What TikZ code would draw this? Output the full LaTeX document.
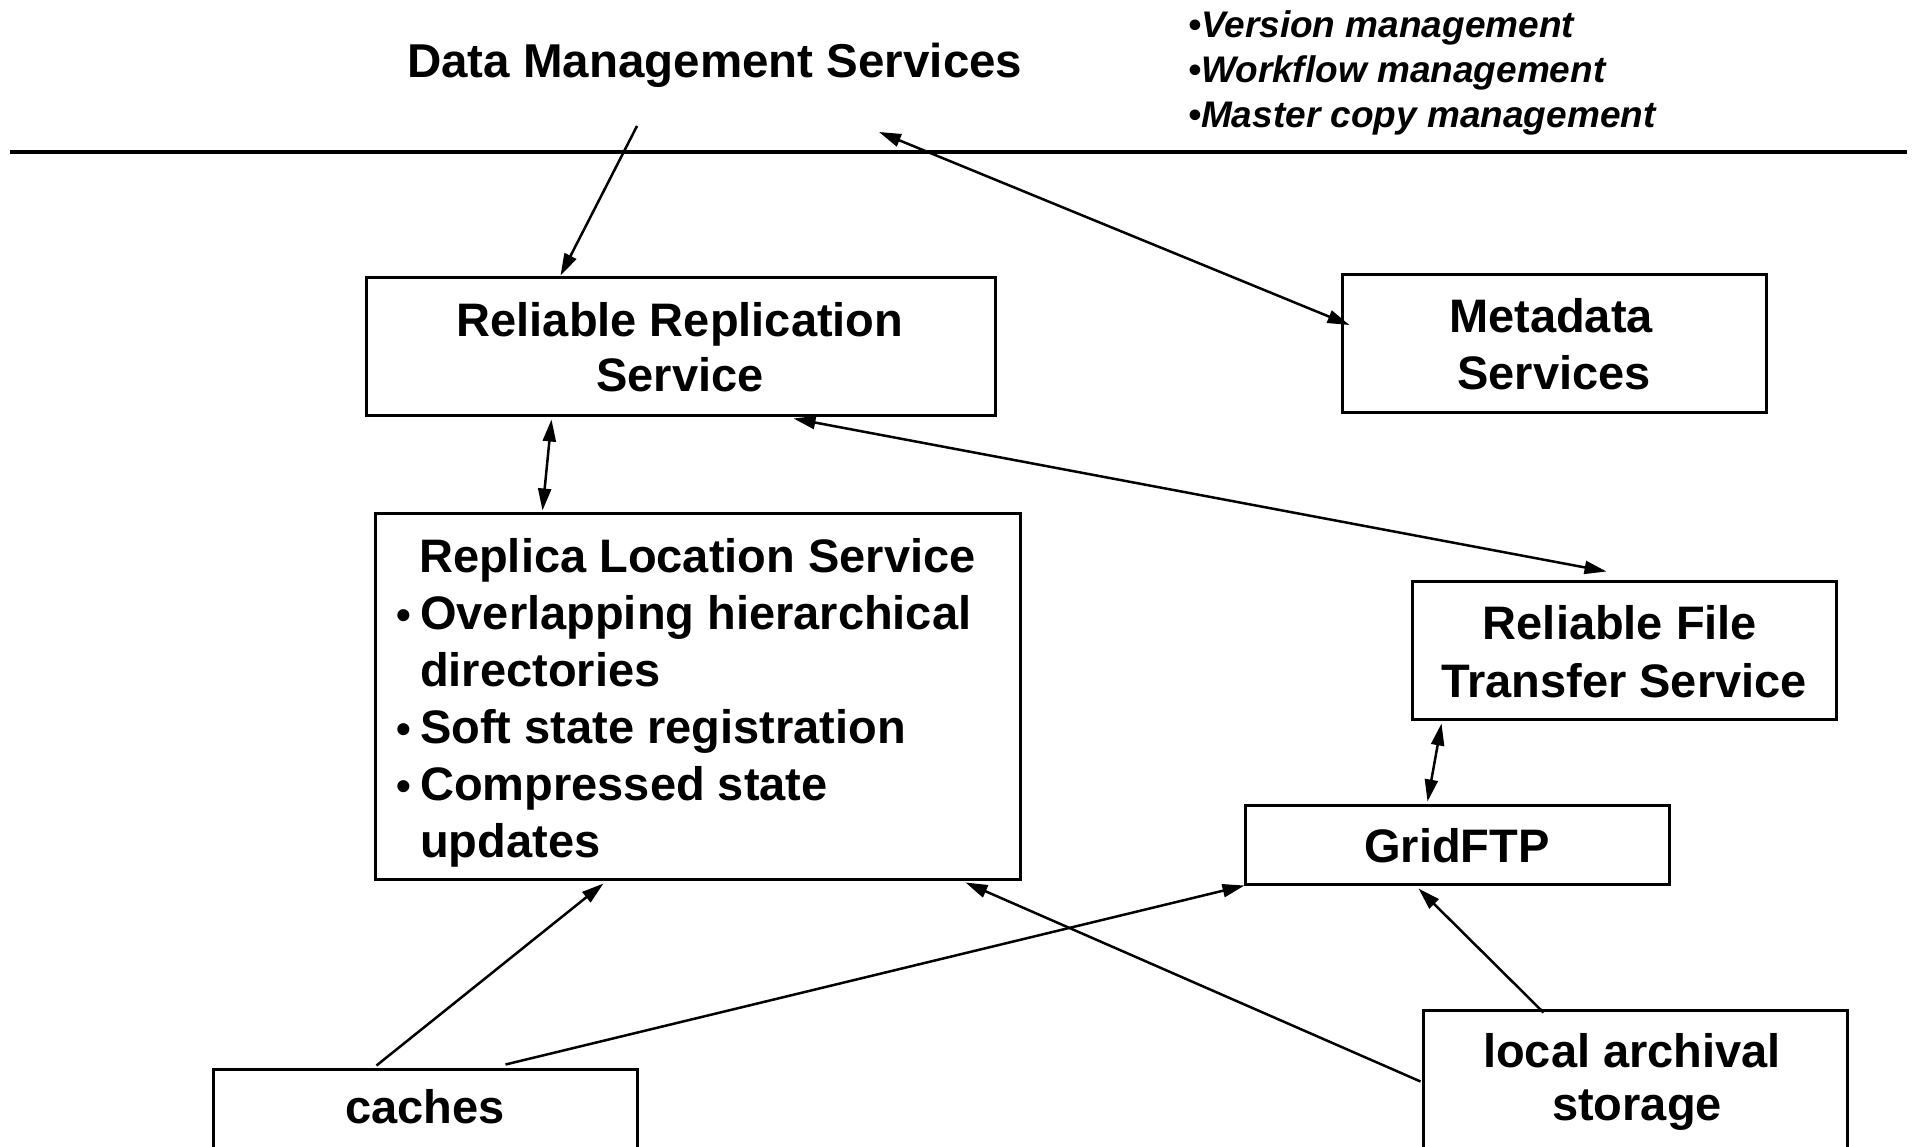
\documentclass[tikz,border=0pt]{standalone}
\usepackage{fontspec}
\setmainfont{Liberation Sans}
\usetikzlibrary{arrows.meta,calc}
\begin{document}
\begin{tikzpicture}[x=1pt,y=-1pt,
  box/.style={draw,line width=3pt,inner sep=0pt},
  txt/.style={font=\fontsize{47}{56}\selectfont\bfseries,anchor=base,inner sep=0pt},
  txtl/.style={font=\fontsize{47}{56}\selectfont\bfseries,anchor=base west,inner sep=0pt},
  bul/.style={font=\fontsize{42}{48}\selectfont\bfseries,anchor=base west,inner sep=0pt},
  lst/.style={font=\fontsize{37}{45}\selectfont\bfseries\itshape,anchor=base west,inner sep=0pt},
  tip/.tip={Triangle[length=22pt,width=13pt]},
  conn/.style={line width=2.5pt,-tip},
  dconn/.style={line width=2.5pt,tip-tip}]
\useasboundingbox (0,0) rectangle (1915,1147);
\clip (0,0) rectangle (1915,1147);
\fill[white] (0,0) rectangle (1915,1147);

% header
\node[txtl,font=\fontsize{47.5}{56}\selectfont\bfseries] (dms) at (407,78) {Data Management Services};
\node[lst] (l1) at (1188,38) {•Version management};
\node[lst] (l2) at (1188,83) {•Workflow management};
\node[lst] (l3) at (1188,128) {•Master copy management};
\coordinate (sepL) at (10,152);
\coordinate (sepR) at (1907,152);
\draw[line width=4pt] (sepL) -- (sepR);
\coordinate (dmsA) at (637,126);
\coordinate (dmsB) at (879,132);

% boxes
\node[box,minimum width=629pt,minimum height=138pt] (rrs) at (680.5,347) {};
\node[txt] (rrs1) at (680,337) {Reliable Replication};
\node[txt] (rrs2) at (680,392) {Service};

\node[box,minimum width=424pt,minimum height=138pt] (mds) at (1554,344) {};
\node[txt] (mds1) at (1551,333) {Metadata};
\node[txt] (mds2) at (1554,390) {Services};

\node[box,minimum width=645pt,minimum height=366pt] (rls) at (697.5,696) {};
\node[txtl] (rls1) at (419,572) {Replica Location Service};
\node[bul] (rlsb1) at (396.5,629.5) {•};
\node[txtl] (rls2) at (420,629) {Overlapping hierarchical};
\node[txtl] (rls3) at (420,686) {directories};
\node[bul] (rlsb2) at (396.5,743.5) {•};
\node[txtl] (rls4) at (420,743) {Soft state registration};
\node[bul] (rlsb3) at (396.5,800.5) {•};
\node[txtl] (rls5) at (420,800) {Compressed state};
\node[txtl] (rls6) at (420,857) {updates};

\node[box,minimum width=424pt,minimum height=138pt] (rft) at (1624,650) {};
\node[txt] (rft1) at (1620,639) {Reliable File};
\node[txt] (rft2) at (1624,697) {Transfer Service};

\node[box,minimum width=424pt,minimum height=79pt] (gftp) at (1457,844.5) {};
\node[txt] (gftp1) at (1457,862) {GridFTP};

\node[box,minimum width=424pt,minimum height=79pt] (cch) at (425,1108.5) {};
\node[txt] (cch1) at (425,1123) {caches};

\node[box,minimum width=424pt,minimum height=138pt] (las) at (1635,1079) {};
\node[txt] (las1) at (1632,1067) {local archival};
\node[txt] (las2) at (1637,1120) {storage};

% connectors
\draw[conn] (dmsA) -- ($(rrs.north west)+(196,-1)$);
\draw[dconn] (dmsB) -- ($(mds.west)+(9,-19)$);
\draw[dconn] ($(rrs.south west)+(187,2)$) -- ($(rls.north west)+(169,-1)$);
\draw[dconn] ($(rrs.south west)+(429,1)$) -- ($(rft.north west)+(196,-8)$);
\draw[dconn] ($(rft.south west)+(31,3)$) -- ($(gftp.north west)+(184,-2)$);
\draw[conn] ($(cch.north west)+(165,-2)$) -- ($(rls.south west)+(230,3)$);
\draw[conn] ($(cch.north west)+(294,-3)$) -- ($(gftp.south west)+(1,0)$);
\draw[conn] ($(las.north west)+(-1,73)$) -- ($(rls.south west)+(592,2)$);
\draw[conn] ($(las.north west)+(122,4)$) -- ($(gftp.south west)+(175,3)$);
\end{tikzpicture}
\end{document}
